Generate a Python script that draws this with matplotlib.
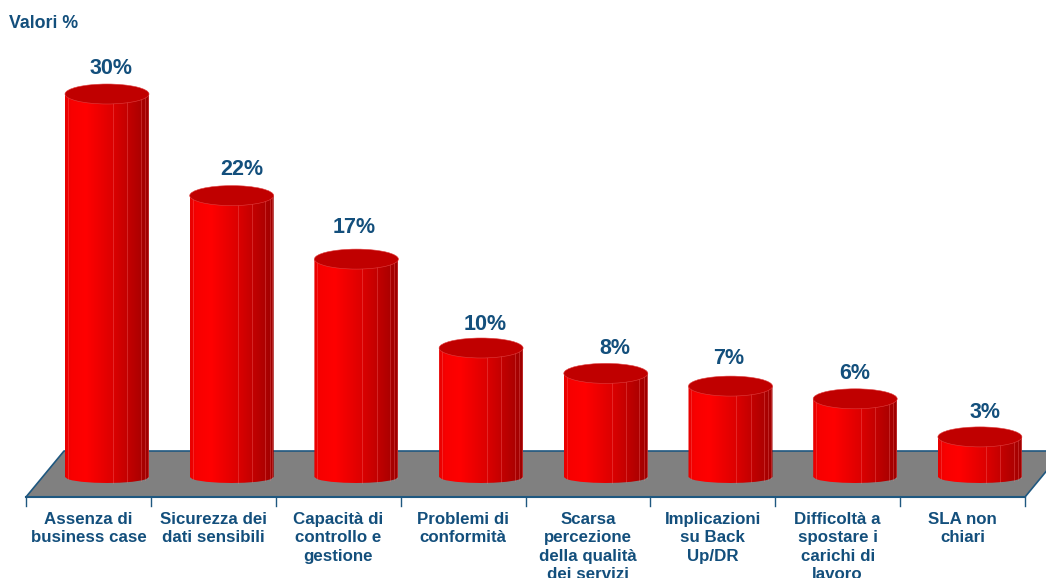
import numpy as np
import matplotlib
matplotlib.use("Agg")
import matplotlib.pyplot as plt
from matplotlib.colors import LinearSegmentedColormap
from matplotlib.patches import Ellipse, PathPatch, Polygon
from matplotlib.path import Path

categories = [
    "Assenza di\nbusiness case",
    "Sicurezza dei\ndati sensibili",
    "Capacità di\ncontrollo e\ngestione",
    "Problemi di\nconformità",
    "Scarsa\npercezione\ndella qualità\ndei servizi",
    "Implicazioni\nsu Back\nUp/DR",
    "Difficoltà a\nspostare i\ncarichi di\nlavoro",
    "SLA non\nchiari",
]
values = [30, 22, 17, 10, 8, 7, 6, 3]

# value label nudges in pixels (x, y above the bar top)
label_dx = [4, 10, -2, 4, 9, -2, 0, 5]
label_dy = [25, 26, 32, 23, 25, 28, 25, 24]

TEXT = "#134f7c"
EDGE = "#1f5880"
W, H = 1046, 578
X0, STEP = 107.0, 124.7   # pixel x of first bar, spacing between bars
Y0, UNIT = 475.0, 12.7    # pixel y of the zero level, pixels per percent
BAR_W = 84 / STEP
RY = 10 / UNIT            # half height of the top ellipse

plt.rcParams["font.family"] = ["Liberation Sans", "DejaVu Sans"]

fig = plt.figure(figsize=(W / 100, H / 100), dpi=100)
ax = fig.add_axes([0, 0, 1, 1])
ax.set_xlim(-X0 / STEP, (W - X0) / STEP)
ax.set_ylim((Y0 - H) / UNIT, Y0 / UNIT)
ax.axis("off")


def xd(px):
    return (px - X0) / STEP


def yd(py):
    return (Y0 - py) / UNIT


# floor
floor = Polygon([(xd(26), yd(497)), (xd(64), yd(451)), (xd(1063), yd(451)), (xd(1025), yd(497))],
                closed=True, facecolor="#808080", edgecolor="none", zorder=1)
ax.add_patch(floor)
ax.plot([xd(26), xd(64), xd(1063)], [yd(497), yd(451), yd(451)], color=EDGE, lw=1.2, zorder=2)
ax.plot([xd(1025), xd(1063)], [yd(497), yd(451)], color=EDGE, lw=1.2, zorder=2)
ax.plot([xd(26), xd(1025)], [yd(497), yd(497)], color=EDGE, lw=1.5, zorder=2)
tick_px = 26 + np.arange(len(categories) + 1) * (1025 - 26) / len(categories)
for t in tick_px:
    ax.plot([xd(t), xd(t)], [yd(497), yd(506)], color=EDGE, lw=1.0, zorder=2)

# shading across a cylinder, bright left of centre and dark to the right
side_cmap = LinearSegmentedColormap.from_list("side", [
    (0.00, "#e60000"), (0.04, "#f00000"), (0.08, "#f80000"), (0.25, "#ff0000"),
    (0.57, "#dc0000"), (0.74, "#c40000"), (0.88, "#b00000"), (1.00, "#9c0000"),
])
gradient = np.linspace(0, 1, 256).reshape(1, -1)
facets = [0.035, 0.57, 0.74, 0.90, 0.95, 0.985]
outline = [0.0, 0.035, 0.085, 0.2, 0.35, 0.5, 0.65, 0.8, 0.915, 0.965, 1.0]


def bottom_edge(x, centre):
    # lower rim of the cylinder, slightly faceted
    u = np.clip((x - centre) / (BAR_W / 2), -1, 1)
    return -(2 + 6 * np.sqrt(1 - u ** 2)) / UNIT


for i, v in enumerate(values):
    left, right = i - BAR_W / 2, i + BAR_W / 2
    low_x = left + np.array(outline) * (right - left)
    low_y = bottom_edge(low_x, i)
    verts = [(left, v)] + list(zip(low_x, low_y)) + [(right, v), (left, v)]
    clip = PathPatch(Path(verts), transform=ax.transData, facecolor="none", edgecolor="none")
    ax.add_patch(clip)
    img = ax.imshow(gradient, cmap=side_cmap, extent=[left, right, -1, v], aspect="auto",
                    interpolation="bilinear", zorder=3)
    img.set_clip_path(clip)
    # faint seams between the cylinder facets
    for f in facets:
        fx = left + f * (right - left)
        ax.plot([fx, fx], [bottom_edge(fx, i), v], color="#ff8080", lw=0.6, alpha=0.35, zorder=4)
    ax.add_patch(Ellipse((i, v), BAR_W, 2 * RY, facecolor="#c00000", edgecolor="#e04040",
                         lw=0.4, zorder=5))
    ax.annotate(f"{v}%", (i, v), xytext=(label_dx[i] * 0.72, label_dy[i] * 0.72),
                textcoords="offset points", ha="center", va="center",
                fontsize=15.5, fontweight="bold", color=TEXT, zorder=6)

for i, name in enumerate(categories):
    mid = (tick_px[i] + tick_px[i + 1]) / 2
    ax.text(xd(mid), yd(512), name, ha="center", va="top", fontsize=12.2, fontweight="bold",
            color=TEXT, linespacing=1.29, clip_on=False)

ax.text(xd(9), yd(23), "Valori %", ha="left", va="center", fontsize=12.8, fontweight="bold", color=TEXT)

fig.savefig("out.png", dpi=100)
